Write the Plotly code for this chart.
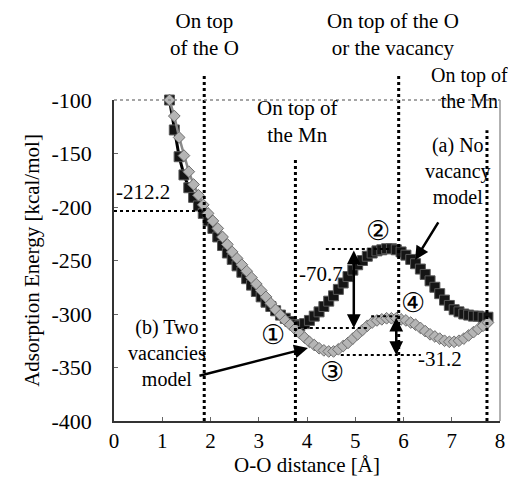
import plotly.graph_objects as go

# O-O distance grid [Å]
distance = [1.15, 1.25, 1.35, 1.45, 1.55, 1.65, 1.75, 1.85, 1.95, 2.05,
            2.15, 2.25, 2.35, 2.45, 2.55, 2.65, 2.75, 2.85, 2.95, 3.05,
            3.15, 3.25, 3.35, 3.45, 3.55, 3.65, 3.75, 3.85, 3.95, 4.05,
            4.15, 4.25, 4.35, 4.45, 4.55, 4.65, 4.75, 4.85, 4.95, 5.05,
            5.15, 5.25, 5.35, 5.45, 5.55, 5.65, 5.75, 5.85, 5.95, 6.05,
            6.15, 6.25, 6.35, 6.45, 6.55, 6.65, 6.75, 6.85, 6.95, 7.05,
            7.15, 7.25, 7.35, 7.45, 7.55, 7.65, 7.75]

# (a) No vacancy model
no_vacancy = [-100, -128, -153, -170, -182, -191, -199, -206, -213, -220,
              -228, -236, -243, -249, -255, -261, -267, -273, -279, -284,
              -289, -293, -297, -301, -304, -307, -310, -311, -309, -306,
              -302, -298, -293, -288, -283, -277, -271, -265, -259, -254,
              -250, -246, -243, -241, -240, -239, -239, -240, -242, -245,
              -249, -253, -258, -263, -269, -275, -281, -287, -292, -296,
              -298, -300, -301, -302, -302, -303, -303]

# (b) Two vacancies model
two_vacancies = [-100, -115, -135, -152, -167, -179, -189, -198, -206, -213,
                 -220, -228, -235, -242, -248, -254, -260, -266, -272, -278,
                 -284, -290, -296, -301, -306, -310, -314, -318, -322, -326,
                 -329, -332, -334, -335, -335, -333, -330, -327, -323, -319,
                 -315, -311, -308, -306, -305, -304, -304, -304, -305, -306,
                 -308, -310, -313, -316, -319, -321, -323, -325, -326, -326,
                 -325, -323, -320, -317, -314, -311, -308]

# Site positions (vertical dotted lines)
site_x = [1.87, 3.76, 5.90, 7.73]
site_top = [1.075, 0.819, 1.075, 0.906]

x_ticks = [0, 1, 2, 3, 4, 5, 6, 7, 8]
x_tick_text = ["0", "1", "2", "3", "4", "5", "6", "7", "8"]
y_ticks = [-100, -150, -200, -250, -300, -350, -400]
y_tick_text = ["-100", "-150", "-200", "-250", "-300", "-350", "-400"]

# Energy levels for annotations
level_start = -203.7
level_1 = -313.0
level_2 = -239.3
level_3 = -338.3
level_4 = -302.0

SERIF = "Liberation Serif, Times New Roman, serif"
FS = 21

fig = go.Figure()
fig.add_trace(go.Scatter(
    x=distance, y=no_vacancy, mode="lines+markers",
    line=dict(color="black", width=3),
    marker=dict(symbol="square", size=10, color="#151515",
                line=dict(color="#5a5a5a", width=1)),
    showlegend=False, cliponaxis=False))
fig.add_trace(go.Scatter(
    x=distance, y=two_vacancies, mode="lines+markers",
    line=dict(color="#8a8a8a", width=2.5),
    marker=dict(symbol="diamond", size=9, color="#b5b5b5",
                line=dict(color="#6e6e6e", width=1)),
    showlegend=False, cliponaxis=False))

shapes = []
for sx, st in zip(site_x, site_top):
    shapes.append(dict(type="line", xref="x", yref="paper", x0=sx, x1=sx,
                       y0=0, y1=st, line=dict(color="black", width=3, dash="dot")))
# frame top and right (gray)
shapes.append(dict(type="line", xref="paper", yref="paper", x0=0, x1=1, y0=1, y1=1,
                   line=dict(color="#888888", width=1.5, dash="dot")))
shapes.append(dict(type="line", xref="paper", yref="paper", x0=1, x1=1, y0=0, y1=1,
                   line=dict(color="#999999", width=1.5)))
# horizontal dotted level lines
hl = [(0.0, 1.87, level_start), (4.39, 5.74, level_2), (3.81, 5.26, level_1),
      (5.33, 5.89, level_4), (4.70, 6.36, level_3)]
for x0, x1, yv in hl:
    shapes.append(dict(type="line", xref="x", yref="y", x0=x0, x1=x1, y0=yv, y1=yv,
                       line=dict(color="black", width=2, dash="dot")))

ann = []
def txt(x, y, t, xref="x", yref="y", size=FS):
    ann.append(dict(x=x, y=y, xref=xref, yref=yref, text=t, showarrow=False,
                    font=dict(family=SERIF, size=size, color="black"),
                    xanchor="center", yanchor="middle", align="center"))

txt(1.87, 1.203, "On top<br>of the O", yref="paper")
txt(5.78, 1.203, "On top of the O<br>or the vacancy", yref="paper")
txt(7.36, 1.037, "On top of<br>the Mn", yref="paper", size=20)
txt(3.81, -120, "On top of<br>the Mn")
txt(7.13, -166.5, "(a) No<br>vacancy<br>model", size=20)
txt(1.1, -336.5, "(b) Two<br>vacancies<br>model", size=20)
txt(0.6, -186, "-212.2")
txt(4.28, -263, "-70.7")
txt(6.76, -342, "-31.2")
for cx, cy, c in [(3.3, -320, "①"), (5.47, -222, "②"), (4.52, -354, "③"), (6.2, -290, "④")]:
    txt(cx, cy, c, size=27)

def arrow(x, y, ax, ay, side="end"):
    ann.append(dict(x=x, y=y, ax=ax, ay=ay, xref="x", yref="y", axref="x", ayref="y",
                    text="", showarrow=True, arrowhead=2, arrowsize=1.1,
                    arrowwidth=2.5, arrowcolor="black", arrowside=side,
                    standoff=0, startstandoff=0))

arrow(6.24, -249.5, 6.74, -213)
arrow(4.02, -331.8, 1.74, -358)
arrow(4.97, level_1, 4.97, level_2, side="end+start")
arrow(5.85, level_3, 5.85, level_4, side="end+start")

fig.update_layout(
    width=516, height=483,
    margin=dict(l=106, r=24, t=92, b=70),
    paper_bgcolor="white", plot_bgcolor="white",
    font=dict(family=SERIF, size=FS, color="black"),
    shapes=shapes, annotations=ann,
    xaxis=dict(range=[0, 8], tickvals=x_ticks, ticktext=x_tick_text,
               ticks="inside", ticklen=4,
               tickcolor="#666666", showgrid=False, zeroline=False,
               showline=True, linecolor="#333333", linewidth=1.5,
               tickfont=dict(family=SERIF, size=FS), ticklabelstandoff=0,
               title=dict(text="O-O distance [Å]", font=dict(family=SERIF, size=FS),
                          standoff=0)),
    yaxis=dict(range=[-400, -100], tickvals=y_ticks, ticktext=y_tick_text,
               ticks="inside", ticklen=4,
               tickcolor="#666666", showgrid=False, zeroline=False,
               showline=True, linecolor="#333333", linewidth=1.5,
               tickfont=dict(family=SERIF, size=22), ticklabelstandoff=16,
               title=dict(text="Adsorption Energy [kcal/mol]",
                          font=dict(family=SERIF, size=FS), standoff=6)),
)

fig.write_html("out.html")
